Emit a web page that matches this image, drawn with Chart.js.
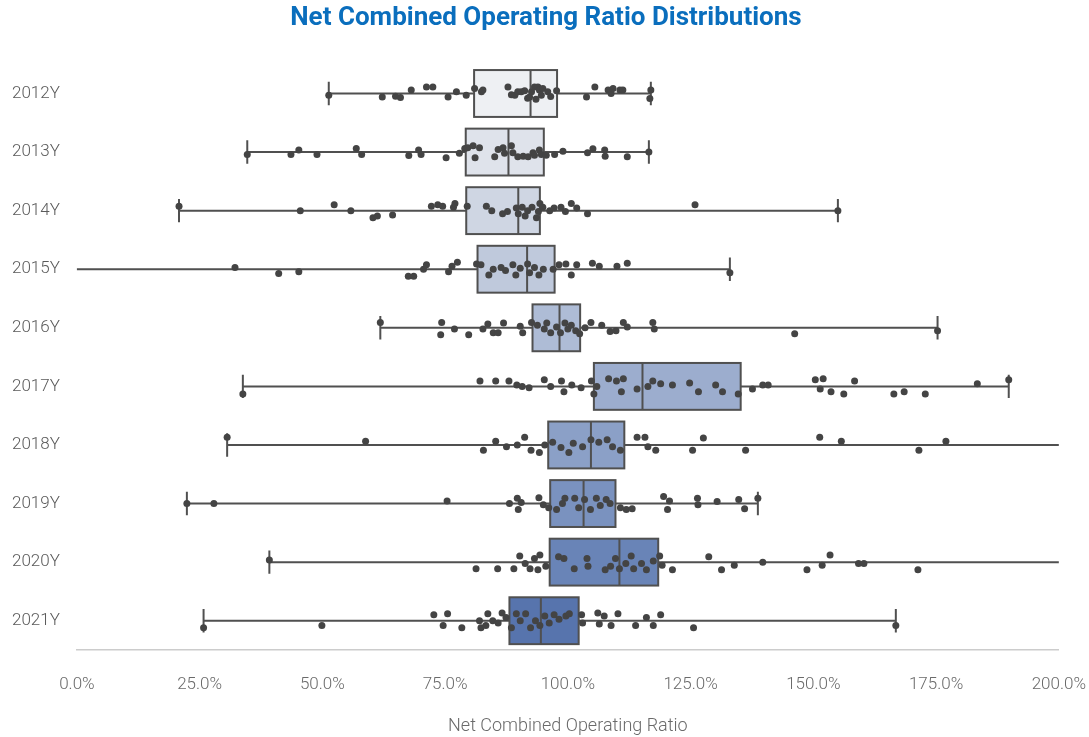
<!DOCTYPE html>
<html>
<head>
<meta charset="utf-8">
<script src="https://cdn.jsdelivr.net/npm/chart.js@4.4.0/dist/chart.umd.min.js"></script>
<style>
  html, body { margin: 0; padding: 0; background: #ffffff; }
  canvas { display: block; }
</style>
</head>
<body>
<canvas id="boxchart" width="1089" height="737"></canvas>
<script>
// categories (one box per year)
const categories = ["2012Y", "2013Y", "2014Y", "2015Y", "2016Y", "2017Y", "2018Y", "2019Y", "2020Y", "2021Y"];

// box stats, in % (whiskers go to min / max, some run past the axis)
const whiskerLow  = [51.3, 34.7, 20.8, -5.0, 61.8, 33.8, 30.6, 22.4, 39.2, 25.8];
const q1          = [80.9, 79.2, 79.3, 81.6, 92.8, 105.3, 96.0, 96.4, 96.3, 88.1];
const median      = [92.4, 87.9, 89.9, 91.7, 98.3, 115.2, 104.7, 103.2, 110.5, 94.5];
const q3          = [97.8, 95.1, 94.3, 97.3, 102.5, 135.2, 111.5, 109.7, 118.4, 102.2];
const whiskerHigh = [116.9, 116.5, 155.0, 133.0, 175.3, 189.8, 215.0, 138.7, 212.0, 166.8];

const boxColors = ["#eef0f3", "#dfe3eb", "#cfd6e3", "#bfc9dc", "#aebcd6",
                   "#9cadce", "#8ba0c7", "#7a92bf", "#6984b7", "#5774ad"];

// strip points per year: [ratio %, jitter in category units]
const pts2012 = [[51.3,0.03],[62.2,0.06],[64.9,0.045],[65.9,0.07],[68.1,-0.06],[71.2,-0.11],[72.5,-0.11],[75.6,0.06],[77.3,-0.03],[79.3,0.03],[81.0,-0.085],[82.4,-0.03],[82.7,-0.06],[87.8,-0.11],[88.5,0.02],[89.2,0.03],[89.8,-0.03],[90.5,-0.03],[91.2,-0.045],[91.8,0.08],[92.2,0.06],[92.6,-0.03],[93.2,-0.11],[93.5,0.1],[93.9,-0.11],[94.2,-0.06],[94.6,0.03],[94.9,-0.085],[95.9,-0.03],[96.5,0.05],[97.7,-0.045],[103.8,0.06],[105.5,-0.11],[108.2,-0.06],[108.8,0],[109.2,-0.085],[110.6,-0.06],[111.2,-0.06],[116.9,-0.06],[116.7,0.085]];
const pts2013 = [[34.7,0.04],[43.6,0.04],[45.2,-0.035],[48.9,0.04],[56.9,-0.06],[58.0,0.04],[67.6,0.06],[69.6,-0.035],[70.1,0.04],[75.2,0.095],[77.9,0.02],[79.0,-0.06],[79.6,-0.075],[80.7,-0.11],[82.0,-0.075],[81.1,0.095],[85.1,0.08],[85.8,-0.045],[86.8,-0.075],[87.1,0.02],[88.5,-0.11],[88.8,0.01],[89.8,0.08],[90.9,0.07],[91.9,0.08],[92.9,0.01],[93.2,0.055],[94.2,-0.035],[94.6,0.04],[95.6,0.055],[97.3,0.04],[99.0,-0.015],[104.0,0.01],[105.1,-0.055],[107.5,-0.035],[107.6,0.07],[112.1,0.08],[116.5,0]];
const pts2014 = [[20.8,-0.075],[45.5,0],[52.4,-0.1],[55.8,0],[60.3,0.12],[61.2,0.09],[64.3,0.075],[72.2,-0.075],[73.5,-0.1],[74.5,-0.075],[76.7,-0.06],[77.0,-0.12],[79.5,-0.075],[83.4,-0.075],[84.5,0],[86.7,0.055],[87.7,0.015],[89.5,-0.045],[89.9,0.055],[90.7,-0.06],[91.3,0.09],[91.8,0],[92.7,-0.06],[93.6,0.12],[94.0,0.015],[94.3,-0.12],[94.9,-0.06],[96.3,0],[97.2,-0.045],[98.6,-0.06],[99.5,0.015],[100.7,-0.12],[101.8,-0.045],[104.0,0.055],[125.9,-0.1],[155.0,0]];
const pts2015 = [[32.2,-0.03],[41.1,0.075],[45.2,0.045],[67.5,0.12],[68.6,0.12],[70.6,0],[71.2,-0.075],[75.7,0.045],[76.4,-0.05],[77.5,-0.12],[81.4,-0.09],[82.3,-0.075],[83.9,0.1],[84.8,0],[86.4,-0.03],[87.3,0.02],[88.8,-0.075],[89.4,0.1],[90.3,-0.015],[91.8,-0.09],[92.2,0.06],[93.2,-0.03],[94.1,0.1],[95.0,0],[97.0,0],[98.2,-0.075],[99.6,-0.09],[100.7,0.1],[101.8,-0.075],[105.0,-0.1],[106.4,-0.05],[110.0,-0.05],[112.1,-0.1],[133.0,0.06]];
const pts2016 = [[61.8,-0.09],[74.3,-0.09],[74.1,0.12],[76.9,0.02],[79.8,0.12],[82.7,0.02],[83.7,-0.065],[84.8,0.085],[85.8,0.085],[86.9,-0.08],[90.3,-0.025],[90.8,0.085],[92.6,-0.09],[93.8,-0.045],[95.2,0.02],[95.7,-0.08],[96.5,0.085],[97.7,-0.015],[98.5,0.085],[99.4,-0.08],[100.0,0.02],[100.7,-0.045],[101.6,0.05],[102.4,0.1],[103.5,0],[104.7,-0.09],[106.9,-0.045],[108.6,0.065],[109.8,0.05],[111.3,-0.09],[112.1,-0.015],[117.3,-0.09],[117.6,0.02],[146.2,0.1],[175.3,0.05]];
const pts2017 = [[33.8,0.13],[82.1,-0.09],[85.3,-0.09],[88.0,-0.09],[89.6,-0.025],[90.7,0],[92.1,0.025],[95.2,-0.115],[96.5,0],[98.7,-0.09],[99.2,0.09],[100.8,-0.025],[102.7,0.025],[104.8,-0.09],[105.3,0.13],[105.9,0],[108.3,-0.13],[109.9,-0.09],[110.9,0.09],[111.3,-0.13],[114.1,0.045],[116.3,0],[117.3,-0.09],[118.9,-0.045],[121.3,-0.025],[124.8,-0.06],[126.6,0.09],[130.1,-0.025],[131.5,0.09],[134.7,0.13],[137.6,0.045],[139.7,-0.025],[140.8,-0.025],[150.4,-0.115],[152.0,-0.13],[151.4,0.045],[153.6,0.09],[156.2,0.13],[158.4,-0.09],[166.4,0.13],[168.5,0.09],[172.8,0.13],[183.4,-0.045],[189.8,-0.115]];
const pts2018 = [[30.6,-0.13],[58.8,-0.065],[82.8,0.09],[85.3,-0.065],[87.5,0.03],[89.7,0],[91.2,-0.13],[92.5,0.09],[94.2,0.13],[95.3,0],[96.9,-0.045],[98.6,0.045],[100.2,0.13],[101.1,-0.03],[103.0,0.03],[104.7,-0.09],[106.3,-0.045],[108.0,-0.09],[109.1,0.03],[110.7,0.09],[114.1,-0.13],[115.7,-0.13],[116.3,0.03],[117.9,0.09],[125.4,0.09],[127.6,-0.12],[136.2,0.09],[151.3,-0.13],[155.7,-0.065],[171.5,0.09],[177.0,-0.065]];
const pts2019 = [[22.4,0],[27.9,0],[75.4,-0.045],[88.1,0],[89.7,-0.09],[89.9,0.1],[90.5,-0.02],[94.1,-0.1],[95.0,0.02],[96.1,0.07],[97.7,0.1],[98.9,0],[99.4,-0.09],[101.4,-0.09],[102.2,0.07],[103.4,-0.07],[104.6,0.1],[105.8,-0.09],[106.6,0.035],[107.8,-0.07],[108.6,0],[110.7,0.07],[111.9,0.1],[113.1,0.09],[119.5,-0.12],[120.3,0.1],[120.7,-0.045],[126.4,-0.09],[126.5,0.02],[130.4,-0.035],[134.8,-0.07],[136.0,0.09],[138.7,-0.09]];
const pts2020 = [[39.2,-0.035],[81.3,0.115],[85.7,0.115],[89.0,0.115],[90.2,-0.105],[91.3,0.025],[92.3,0.115],[93.2,-0.06],[93.9,0.13],[94.3,-0.12],[95.5,0.07],[98.1,-0.09],[99.2,-0.06],[101.3,0.115],[103.9,-0.06],[104.1,0.07],[107.6,0.13],[108.7,0.07],[109.7,-0.06],[110.5,0.115],[111.8,0.025],[112.9,-0.105],[113.4,0.115],[115.0,0.025],[116.0,0.13],[117.4,-0.02],[118.7,-0.105],[119.2,0.055],[121.3,0.13],[128.7,-0.09],[131.3,0.13],[133.9,0.055],[139.7,0],[148.7,0.13],[151.8,0.055],[153.4,-0.12],[159.2,0.025],[160.3,0.025],[171.3,0.13]];
const pts2021 = [[25.8,0.12],[49.9,0.08],[72.7,-0.1],[74.6,0.08],[75.5,-0.12],[78.4,0.12],[82.0,0],[82.3,0.12],[83.3,0.08],[83.7,-0.12],[84.7,0],[85.8,0.04],[86.6,-0.13],[87.4,-0.055],[88.5,0.12],[89.5,-0.12],[90.3,0],[91.4,-0.12],[92.4,0.12],[93.4,0],[94.3,0.08],[95.3,-0.08],[96.2,0.04],[97.2,-0.1],[98.2,-0.025],[99.6,-0.08],[100.3,-0.12],[102.8,-0.1],[103.0,0.04],[106.1,-0.13],[106.4,0.055],[107.4,-0.08],[108.8,0.08],[110.2,-0.12],[113.8,0.08],[116.0,-0.055],[117.4,0.08],[118.9,-0.1],[125.6,0.12],[166.8,0.08]];

const stripPoints = [pts2012, pts2013, pts2014, pts2015, pts2016, pts2017, pts2018, pts2019, pts2020, pts2021];

// x tick labels
const xTicks = [0, 25, 50, 75, 100, 125, 150, 175, 200];

const scatterData = [];
stripPoints.forEach((rows, i) => {
    rows.forEach(p => scatterData.push({ x: p[0], y: i + p[1] }));
});

// draws boxes, whiskers and caps from the scales
const boxPlugin = {
    id: "boxes",
    beforeDatasetsDraw(chart) {
        const { ctx, chartArea, scales } = chart;
        const xs = scales.x, ys = scales.y;
        ctx.save();
        ctx.beginPath();
        ctx.rect(chartArea.left, chartArea.top, chartArea.right - chartArea.left, chartArea.bottom - chartArea.top);
        ctx.clip();
        ctx.strokeStyle = "#505050";
        ctx.lineWidth = 2;
        categories.forEach((c, i) => {
            const yc = ys.getPixelForValue(i);
            const yTop = ys.getPixelForValue(i - 0.4);
            const yBot = ys.getPixelForValue(i + 0.4);
            const capTop = ys.getPixelForValue(i - 0.2);
            const capBot = ys.getPixelForValue(i + 0.2);
            const xLo = xs.getPixelForValue(whiskerLow[i]);
            const xQ1 = xs.getPixelForValue(q1[i]);
            const xMed = xs.getPixelForValue(median[i]);
            const xQ3 = xs.getPixelForValue(q3[i]);
            const xHi = xs.getPixelForValue(whiskerHigh[i]);

            // whiskers + caps
            ctx.beginPath();
            ctx.moveTo(xLo, yc); ctx.lineTo(xQ1, yc);
            ctx.moveTo(xQ3, yc); ctx.lineTo(xHi, yc);
            ctx.moveTo(xLo, capTop); ctx.lineTo(xLo, capBot);
            ctx.moveTo(xHi, capTop); ctx.lineTo(xHi, capBot);
            ctx.stroke();

            // box
            ctx.fillStyle = boxColors[i];
            ctx.fillRect(xQ1, yTop, xQ3 - xQ1, yBot - yTop);
            ctx.strokeRect(xQ1, yTop, xQ3 - xQ1, yBot - yTop);

            // median
            ctx.beginPath();
            ctx.moveTo(xMed, yTop); ctx.lineTo(xMed, yBot);
            ctx.stroke();
        });
        ctx.restore();
    }
};

const ctx = document.getElementById("boxchart").getContext("2d");

new Chart(ctx, {
    type: "scatter",
    data: {
        datasets: [{
            label: "points",
            data: scatterData,
            backgroundColor: "#444444",
            borderWidth: 0,
            pointRadius: 3.5,
            pointHoverRadius: 3.5
        }]
    },
    options: {
        responsive: false,
        animation: false,
        layout: { padding: { left: 3, right: 0, top: 0, bottom: 0 } },
        plugins: {
            legend: { display: false },
            tooltip: { enabled: false },
            title: {
                display: true,
                text: "Net Combined Operating Ratio Distributions",
                color: "#0a6ebd",
                font: { family: "Roboto", size: 26, weight: "bold" },
                padding: { top: 3, bottom: 30 }
            }
        },
        scales: {
            x: {
                type: "linear",
                min: 0,
                max: 200,
                afterBuildTicks: (scale) => { scale.ticks = xTicks.map(v => ({ value: v })); },
                // invisible ticks only to push the labels down
                grid: { display: true, drawOnChartArea: false, drawTicks: true, tickLength: 22, color: "rgba(0,0,0,0)" },
                border: { display: true, color: "#cccccc", width: 1.5 },
                ticks: {
                    color: "#6a6a6a",
                    font: { family: "Roboto", size: 17, weight: "300" },
                    padding: 3,
                    maxRotation: 0,
                    callback: (v) => v.toFixed(1) + "%"
                },
                title: {
                    display: true,
                    text: "Net Combined Operating Ratio",
                    color: "#6a6a6a",
                    font: { family: "Roboto", size: 18, weight: "300" },
                    padding: { top: 17, bottom: 0 }
                }
            },
            y: {
                type: "linear",
                min: -0.5,
                max: 9.5,
                reverse: true,
                afterBuildTicks: (scale) => { scale.ticks = categories.map((c, i) => ({ value: i })); },
                grid: { display: false },
                border: { display: false },
                ticks: {
                    color: "#5a5a5a",
                    font: { family: "Roboto", size: 17, weight: "300" },
                    padding: 9,
                    callback: (v) => categories[v]
                }
            }
        }
    },
    plugins: [boxPlugin]
});
</script>
</body>
</html>
